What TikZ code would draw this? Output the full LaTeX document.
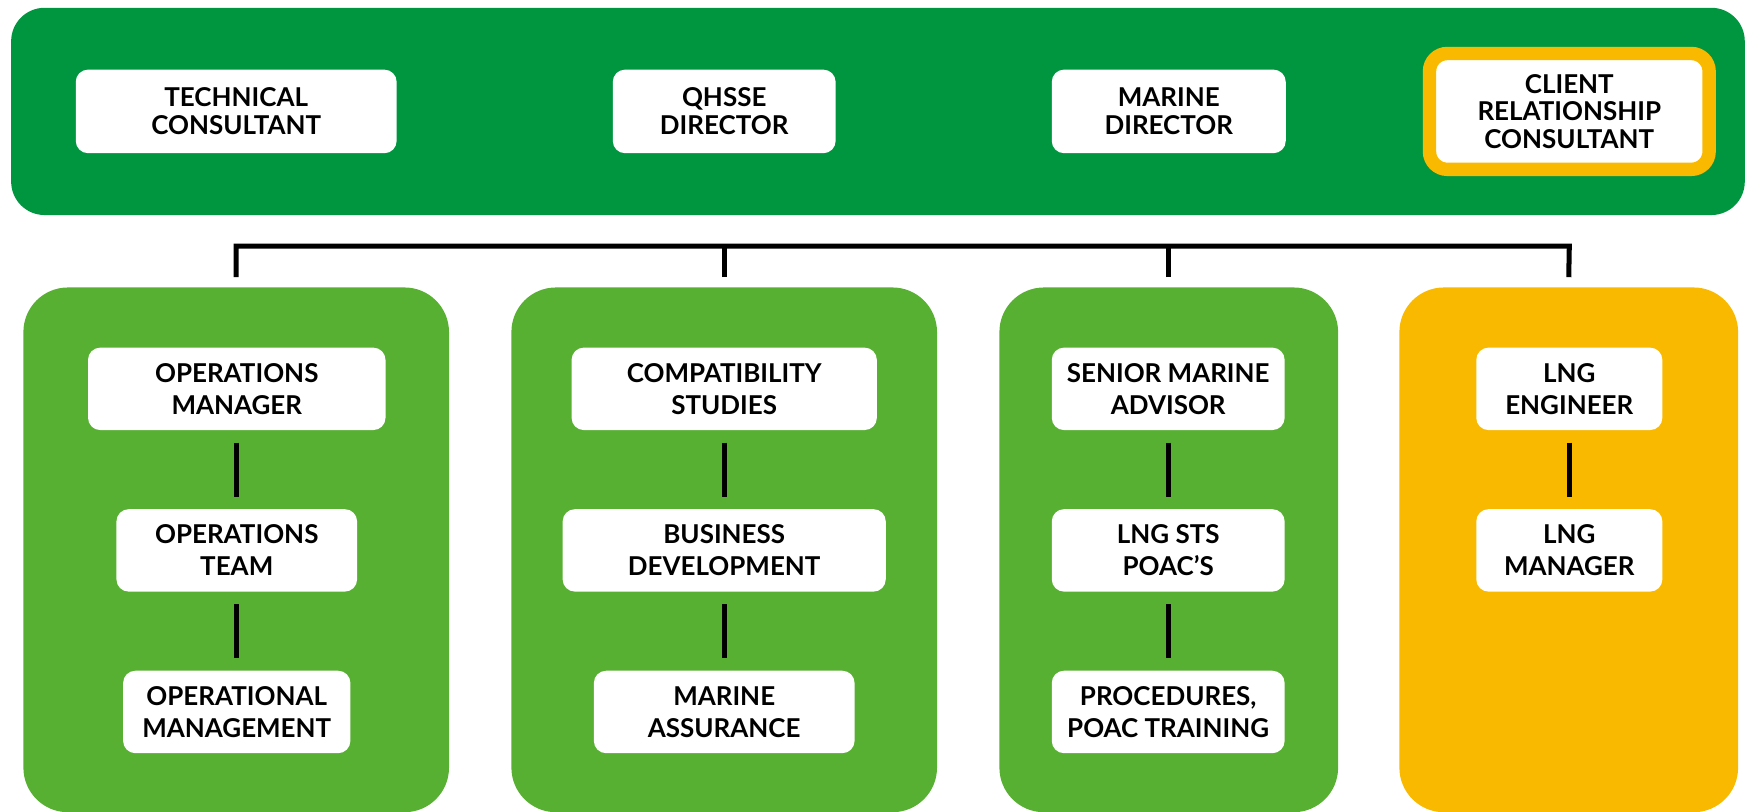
\documentclass[tikz,border=0pt]{standalone}
\usepackage{fontspec}
\setmainfont{Lato}
\usetikzlibrary{calc}
\definecolor{dkgreen}{RGB}{0,150,64}
\definecolor{ltgreen}{RGB}{88,176,50}
\definecolor{gold}{RGB}{249,185,0}
\tikzset{
  topbar/.style={fill=dkgreen, draw=none, rounded corners=30pt},
  colbox/.style={draw=none, rounded corners=40pt, minimum width=#1, minimum height=471pt, inner sep=0pt},
  basebox/.style={fill=white, draw=none, rounded corners=11pt, minimum width=#1,
    inner sep=0pt, align=center, text=black},
  wbox/.style={basebox=#1, minimum height=74pt,
    font=\bfseries\fontsize{23.3}{28.7}\selectfont},
  tbox/.style={basebox=#1, minimum height=75pt, font=\bfseries\fontsize{23.3}{24.8}\selectfont},
  conn/.style={draw=black, line width=4.5pt},
  vconn/.style={conn, shorten >=11pt, shorten <=11pt}
}
\begin{document}
\begin{tikzpicture}[x=1pt,y=-1pt]
\useasboundingbox (0,0) rectangle (1568,728);
% top bar
\node[topbar, minimum width=1556pt, minimum height=186pt, inner sep=0pt] (top) at (788,100) {};
\node[tbox=288pt] (tc) at (212,100) {TECHNICAL\\CONSULTANT};
\node[tbox=200pt] (qd) at (650,100) {QHSSE\\DIRECTOR};
\node[tbox=210pt] (md) at (1049,100) {MARINE\\DIRECTOR};
\node[tbox=251pt, minimum height=104pt, draw=gold, line width=12pt, rounded corners=16pt] (crc) at (1408.5,100) {CLIENT\\RELATIONSHIP\\CONSULTANT};
% columns
\node[colbox=382pt, fill=ltgreen] (c1) at (212,493.5) {};
\node[colbox=382pt, fill=ltgreen] (c2) at (650,493.5) {};
\node[colbox=304pt, fill=ltgreen] (c3) at (1049,493.5) {};
\node[colbox=304pt, fill=gold] (c4) at (1408,493.5) {};
% bus
\coordinate (b1) at (212,221);
\coordinate (b4) at (1408.5,221);
\draw[conn] ($(c1.north)+(0,-9)$) -- (b1) -- (b4) -- ($(c4.north)+(0,-9)$);
\draw[conn] ($(c2.north)+(0,-9)$) -- (c2.north |- b1);
\draw[conn] ($(c3.north)+(0,-9)$) -- (c3.north |- b1);
% column 1
\node[wbox=267pt] (om) at (212.5,349) {OPERATIONS\\MANAGER};
\node[wbox=216pt] (ot) at (212.5,494) {OPERATIONS\\TEAM};
\node[wbox=204pt] (omg) at (212.5,639) {OPERATIONAL\\MANAGEMENT};
% column 2
\node[wbox=274pt] (cs) at (650,349) {COMPATIBILITY\\STUDIES};
\node[wbox=290pt] (bd) at (650,494) {BUSINESS\\DEVELOPMENT};
\node[wbox=234pt] (ma) at (650,639) {MARINE\\ASSURANCE};
% column 3
\node[wbox=209pt] (sma) at (1048.5,349) {SENIOR MARINE\\ADVISOR};
\node[wbox=209pt] (sts) at (1048.5,494) {LNG STS\\POAC’S};
\node[wbox=209pt] (proc) at (1048.5,639) {PROCEDURES,\\POAC TRAINING};
% column 4
\node[wbox=167pt] (le) at (1408.5,349) {LNG\\ENGINEER};
\node[wbox=167pt] (lm) at (1408.5,494) {LNG\\MANAGER};
% vertical links
\draw[vconn] (om) -- (ot);
\draw[vconn] (ot) -- (omg);
\draw[vconn] (cs) -- (bd);
\draw[vconn] (bd) -- (ma);
\draw[vconn] (sma) -- (sts);
\draw[vconn] (sts) -- (proc);
\draw[vconn] (le) -- (lm);
\end{tikzpicture}
\end{document}
